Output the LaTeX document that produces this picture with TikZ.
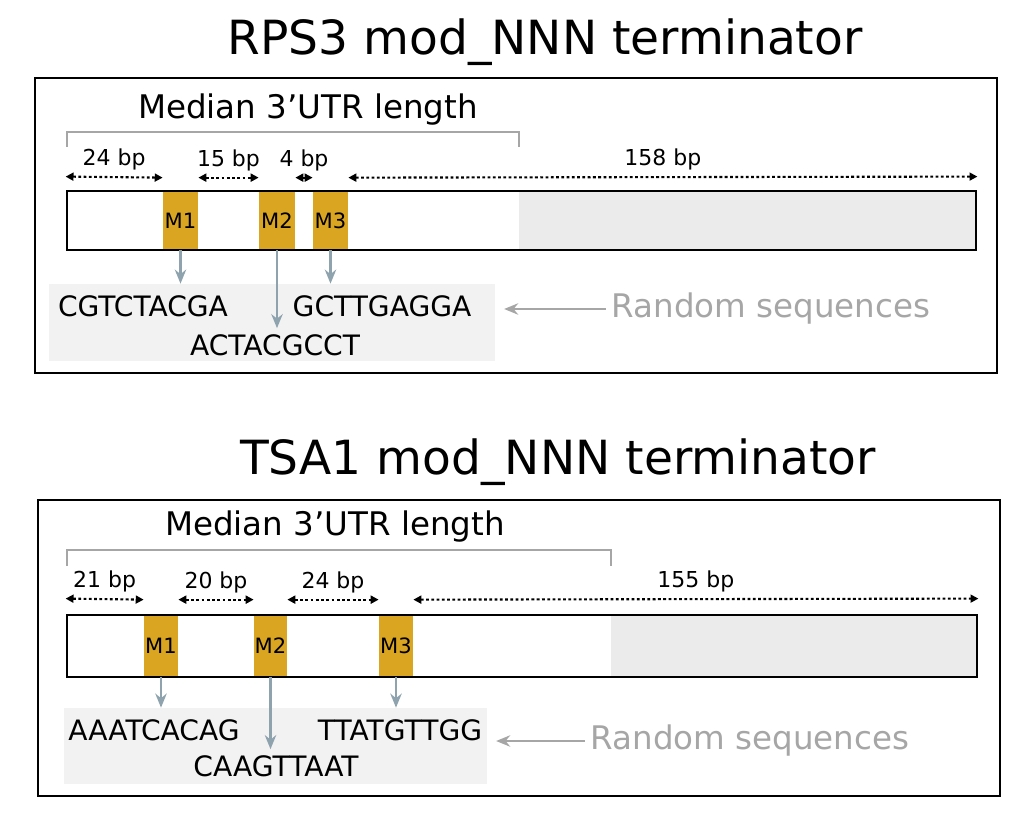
\documentclass[tikz,border=0pt]{standalone}
\usepackage{fontspec}
\setmainfont{DejaVu Sans}
\usetikzlibrary{arrows.meta,calc,fit,positioning}
\definecolor{motifgold}{HTML}{DAA520}
\definecolor{tailgrey}{HTML}{EBEBEB}
\definecolor{seqbg}{HTML}{F2F2F2}
\definecolor{pointer}{HTML}{8FA3AF}
\definecolor{labelgrey}{HTML}{A6A6A6}

\begin{document}
\begin{tikzpicture}[x=0.02cm,y=-0.02cm]

		\tikzset{frame/.style={draw=black,line width=0.9pt}}
		\tikzset{title/.style={font=\fontsize{26.8}{30}\selectfont}}
		\tikzset{median/.style={font=\fontsize{18.5}{22}\selectfont}}
		\tikzset{bracket/.style={draw=labelgrey,line width=1.2pt}}
		\tikzset{bar/.style={draw=black,line width=1.6pt,inner sep=0pt}}
		\tikzset{motif/.style={fill=motifgold,inner sep=0pt}}
		\tikzset{dimarrow/.style={draw,line width=1.2pt,dash pattern=on 1.6pt off 1.4pt,{Triangle[length=4.5pt,width=4.5pt]}-{Triangle[length=4.5pt,width=4.5pt]}}}
		\tikzset{bplabel/.style={above=0pt,font=\fontsize{12.5}{14}\selectfont}}
		\tikzset{seqbox/.style={fill=seqbg,inner sep=0pt}}
		\tikzset{seq/.style={font=\fontsize{16}{19}\selectfont}}
		\tikzset{pointer/.style={draw=pointer,line width=1.2pt,-{Stealth[length=8pt,width=6.5pt]}}}
		\tikzset{random/.style={text=labelgrey,font=\fontsize{18.5}{22}\selectfont}}
		\tikzset{randarrow/.style={draw=labelgrey,line width=1.2pt,-{Stealth[length=8pt,width=6.5pt]},shorten >=5pt}}

		\useasboundingbox (0,0) rectangle (1027,820);

		% First terminator.
		\node[title] (title1) at (545,42) {RPS3 mod\_NNN terminator};
		\draw[frame] (35,78) rectangle (997,373);

		\node[median] (med1) at (308,110) {Median 3’UTR length};
		\draw[bracket] (67,147) -- (67,132) -- (519,132) -- (519,147);

		\fill[tailgrey] (519,191) rectangle (976,250);
		\node[motif, fit={(163,191)(198,250)}, label=center:{\fontsize{12}{14}\selectfont M1}] (m1) {};
		\node[motif, fit={(259,191)(295,250)}, label=center:{\fontsize{12}{14}\selectfont M2}] (m2) {};
		\node[motif, fit={(313,191)(348,250)}, label=center:{\fontsize{12}{14}\selectfont M3}] (m3) {};
		\node[bar, fit={(67,191)(976,250)}] (bar1) {};

		\path[dimarrow] ($(bar1.north west)+(0,-13)$) -- node[bplabel] {24 bp} ($(m1.north west)+(0,-13)$);
		\path[dimarrow] ($(m1.north east)+(0,-13)$) -- node[bplabel] {15 bp} ($(m2.north west)+(0,-13)$);
		\path[dimarrow] ($(m2.north east)+(0,-13)$) -- node[bplabel] {4 bp} ($(m3.north west)+(0,-13)$);
		\path[dimarrow] ($(m3.north east)+(0,-13)$) -- node[bplabel] {158 bp} ($(bar1.north east)+(0,-13)$);

		\node[seqbox, fit={(49,284)(495,361)}] (bg1) {};
		\node[seq] (s1) at (143,306) {CGTCTACGA};
		\node[seq] (s2) at (275,345) {ACTACGCCT};
		\node[seq] (s3) at (382,306) {GCTTGAGGA};

		\path[pointer] (m1.south) -- (m1.south |- bg1.north);
		\path[pointer] (m2.south) -- (m2.south |- s2.north);
		\path[pointer] (m3.south) -- (m3.south |- bg1.north);

		\node[random] (rand1) at (771,309) {Random sequences};
		\path[randarrow] (rand1.west) -- (rand1.west -| bg1.east);


		% Second terminator.
		\node[title] (title2) at (558,462) {TSA1 mod\_NNN terminator};
		\draw[frame] (38,500) rectangle (1000,796);

		\node[median] (med2) at (335,527) {Median 3’UTR length};
		\draw[bracket] (67,566) -- (67,550) -- (611,550) -- (611,566);

		\fill[tailgrey] (611,615) rectangle (977,677);
		\node[motif, fit={(144,615)(178,677)}, label=center:{\fontsize{12}{14}\selectfont M1}] (m4) {};
		\node[motif, fit={(254,615)(287,677)}, label=center:{\fontsize{12}{14}\selectfont M2}] (m5) {};
		\node[motif, fit={(379,615)(413,677)}, label=center:{\fontsize{12}{14}\selectfont M3}] (m6) {};
		\node[bar, fit={(67,615)(977,677)}] (bar2) {};

		\path[dimarrow] ($(bar2.north west)+(0,-15)$) -- node[bplabel] {21 bp} ($(m4.north west)+(0,-15)$);
		\path[dimarrow] ($(m4.north east)+(0,-15)$) -- node[bplabel] {20 bp} ($(m5.north west)+(0,-15)$);
		\path[dimarrow] ($(m5.north east)+(0,-15)$) -- node[bplabel] {24 bp} ($(m6.north west)+(0,-15)$);
		\path[dimarrow] ($(m6.north east)+(0,-15)$) -- node[bplabel] {155 bp} ($(bar2.north east)+(0,-15)$);

		\node[seqbox, fit={(64,708)(487,784)}] (bg2) {};
		\node[seq] (s4) at (154,730) {AAATCACAG};
		\node[seq] (s5) at (276,766) {CAAGTTAAT};
		\node[seq] (s6) at (400,730) {TTATGTTGG};

		\path[pointer] (m4.south) -- (m4.south |- bg2.north);
		\path[pointer] (m5.south) -- (m5.south |- s5.north);
		\path[pointer] (m6.south) -- (m6.south |- bg2.north);

		\node[random] (rand2) at (750,741) {Random sequences};
		\path[randarrow] (rand2.west) -- (rand2.west -| bg2.east);

	\end{tikzpicture}
\end{document}
